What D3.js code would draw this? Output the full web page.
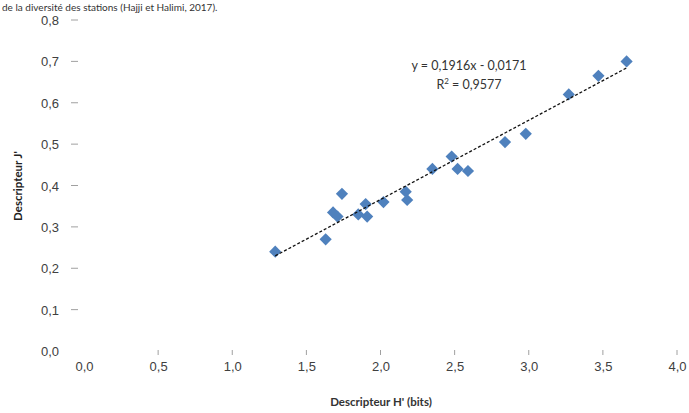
<!DOCTYPE html>
<html>
<head>
<meta charset="utf-8">
<script src="https://cdn.jsdelivr.net/npm/d3@7"></script>
<style>
  html, body { margin: 0; padding: 0; background: #fff; }
  svg { display: block; font-family: Lato, "Open Sans", "Liberation Sans", sans-serif; }
</style>
</head>
<body>
<svg id="chart" width="689" height="413"></svg>
<script>
// Diversity index H' (bits) against evenness J' for each sampled station
const hValues = [1.29, 1.63, 1.68, 1.71, 1.74, 1.85, 1.90, 1.91, 2.02, 2.17,
                 2.18, 2.35, 2.48, 2.52, 2.59, 2.84, 2.98, 3.27, 3.47, 3.66];
const jValues = [0.24, 0.27, 0.335, 0.325, 0.38, 0.33, 0.355, 0.325, 0.36, 0.385,
                 0.365, 0.44, 0.47, 0.44, 0.435, 0.505, 0.525, 0.62, 0.665, 0.70];

const xTicks = [0, 0.5, 1, 1.5, 2, 2.5, 3, 3.5, 4];
const yTicks = [0, 0.1, 0.2, 0.3, 0.4, 0.5, 0.6, 0.7, 0.8];

// Linear fit reported on the chart
const slope = 0.1916, intercept = -0.0171, r2 = 0.9577;

const fmt1 = v => d3.format(".1f")(v).replace(".", ",");
const fmt4 = v => d3.format(".4f")(Math.abs(v)).replace(".", ",");

const svg = d3.select("#chart");
const x = d3.scaleLinear().domain([0, 4]).range([84, 677]);
const y = d3.scaleLinear().domain([0, 0.8]).range([351, 20]);

const textColor = "#404040";

// Caption line of the surrounding text
svg.append("text")
  .attr("x", 2).attr("y", 11)
  .attr("font-size", 10).attr("fill", "#333")
  .text("de la diversité des stations (Hajji et Halimi, 2017).");

// Y axis: labels and short tick dashes, no axis line
const yAxis = d3.axisLeft(y).tickValues(yTicks).tickFormat(fmt1).tickSize(0).tickPadding(0);
const gy = svg.append("g").attr("transform", "translate(59,0)").call(yAxis);
gy.select(".domain").remove();
gy.selectAll("text").attr("font-size", 13).attr("fill", textColor).attr("dy", "0.35em");
svg.append("g").selectAll("line").data(yTicks.filter(v => v > 0)).join("line")
  .attr("x1", 71).attr("x2", 78)
  .attr("y1", d => y(d)).attr("y2", d => y(d))
  .attr("stroke", "#a0a0a0").attr("stroke-width", 1);

// X axis: labels and small vertical ticks, no axis line
const xAxis = d3.axisBottom(x).tickValues(xTicks).tickFormat(fmt1).tickSize(0).tickPadding(0);
const gx = svg.append("g").attr("transform", "translate(0,362)").call(xAxis);
gx.select(".domain").remove();
gx.selectAll("text").attr("font-size", 13).attr("fill", textColor).attr("dy", "0.71em");
svg.append("g").selectAll("line").data(xTicks.filter(v => v > 0)).join("line")
  .attr("x1", d => x(d)).attr("x2", d => x(d))
  .attr("y1", 350).attr("y2", 355)
  .attr("stroke", "#a0a0a0").attr("stroke-width", 1);

// Axis titles
svg.append("text")
  .attr("x", 381).attr("y", 406)
  .attr("text-anchor", "middle").attr("font-size", 11.5).attr("font-weight", "bold")
  .attr("fill", "#333").text("Descripteur H' (bits)");
svg.append("text")
  .attr("transform", "translate(22,186) rotate(-90)")
  .attr("text-anchor", "middle").attr("font-size", 11.5).attr("font-weight", "bold")
  .attr("fill", "#222").text("Descripteur J'");

// Markers
const diamond = d3.symbol().type(d3.symbolDiamond2).size(95);
svg.append("g").selectAll("path").data(hValues.map((h, i) => [h, jValues[i]])).join("path")
  .attr("d", diamond)
  .attr("transform", d => `translate(${x(d[0])},${y(d[1])})`)
  .attr("fill", "#4f81bd");

// Trend line over the observed range
const xMin = d3.min(hValues), xMax = d3.max(hValues);
svg.append("line")
  .attr("x1", x(xMin)).attr("y1", y(slope * xMin + intercept))
  .attr("x2", x(xMax)).attr("y2", y(slope * xMax + intercept))
  .attr("stroke", "#111").attr("stroke-width", 1.3)
  .attr("stroke-dasharray", "3,2");

// Equation label
const eq = svg.append("text").attr("text-anchor", "middle").attr("font-size", 12.5).attr("fill", "#333");
eq.append("tspan").attr("x", 469).attr("y", 70)
  .text(`y = ${fmt4(slope)}x - ${fmt4(intercept)}`);
const r = eq.append("tspan").attr("x", 469).attr("y", 89).text("R");
r.append("tspan").attr("font-size", 8).attr("dy", -5).text("2");
r.append("tspan").attr("dy", 5).text(` = ${fmt4(r2)}`);
</script>
</body>
</html>
